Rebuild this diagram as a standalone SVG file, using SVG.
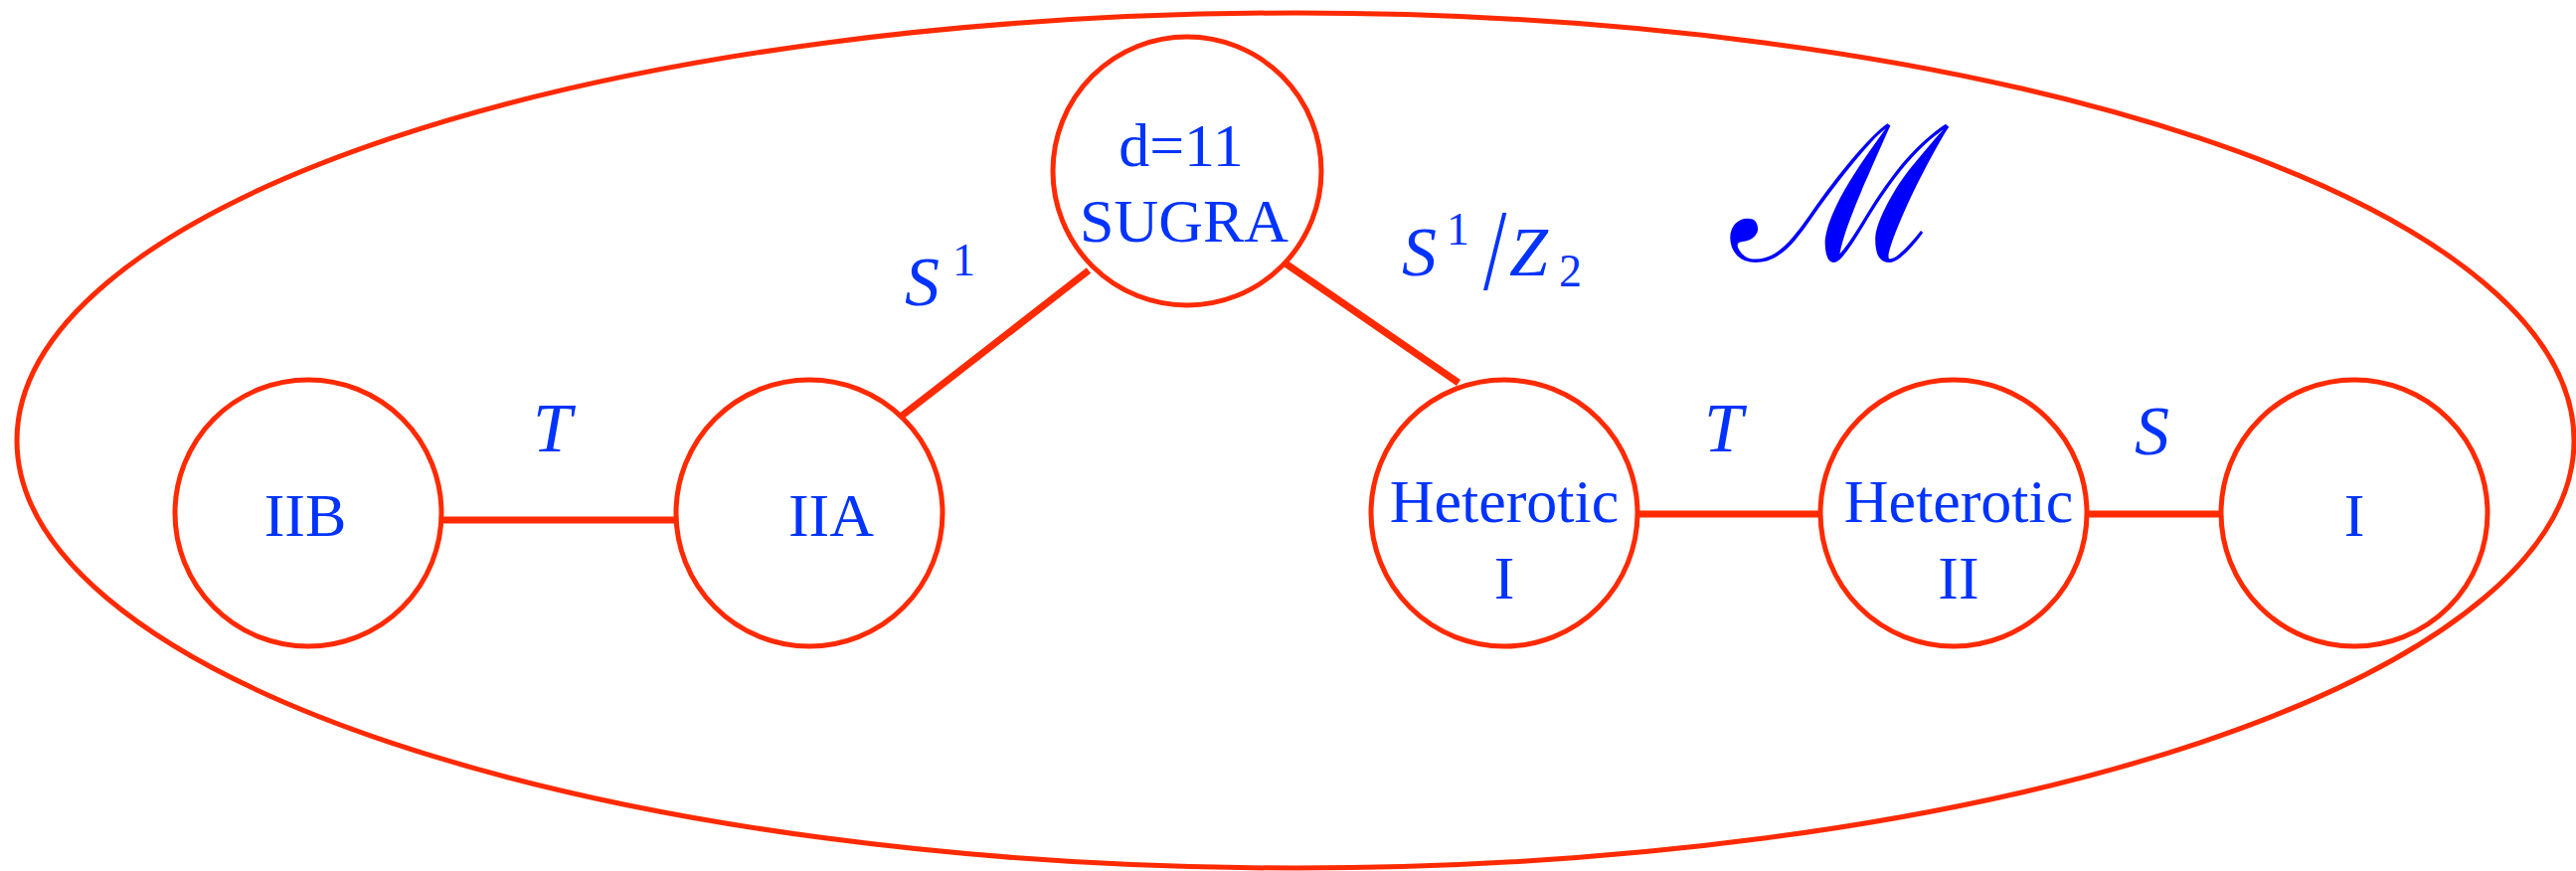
<svg xmlns="http://www.w3.org/2000/svg" width="2591" height="876" viewBox="0 0 2591 876">
<style>
.node{fill:none;stroke:#ff2a00;stroke-width:5}
.edge{stroke:#ff2a00;stroke-width:7;fill:none}
.lbl{font-family:"Liberation Serif","Times New Roman",serif;font-size:62px;fill:#0033ff;text-anchor:middle}
.it{font-family:"Liberation Serif","Times New Roman",serif;font-style:italic;font-size:70px;fill:#0033ff}
.up{font-family:"Liberation Serif","Times New Roman",serif;font-size:70px;fill:#0033ff}
.sup{font-family:"Liberation Serif","Times New Roman",serif;font-size:46px;fill:#0033ff}
</style>
<rect width="2591" height="876" fill="#ffffff"/>
<g id="moduli">
<ellipse cx="1303" cy="443" rx="1286" ry="430" class="node"/>
<text x="1850" y="262" font-family="DejaVu Serif, serif" font-size="190" fill="#0000ff" text-anchor="middle">ℳ</text>
</g>
<g id="connectors">
<line class="edge" x1="446" y1="523" x2="681" y2="523"/>
<line class="edge" x1="906" y1="419" x2="1095" y2="272"/>
<line class="edge" x1="1293" y1="265" x2="1467" y2="385"/>
<line class="edge" x1="1647" y1="517" x2="1832" y2="517"/>
<line class="edge" x1="2097" y1="517" x2="2234" y2="517"/>
<text class="it" x="536" y="454">T</text>
<text class="it" x="910" y="307">S</text>
<text class="sup" x="958" y="277">1</text>
<text class="it" x="1410" y="277">S</text>
<text class="sup" x="1455" y="246">1</text>
<text class="up" transform="translate(1492,291) scale(1.2,1.65)">/</text>
<text class="it" x="1518" y="277">Z</text>
<text class="sup" x="1568" y="288">2</text>
<text class="it" x="1714" y="454">T</text>
<text class="it" x="2147" y="457">S</text>
</g>
<g id="IIB">
<circle cx="310" cy="516" r="134" class="node"/>
<text class="lbl" x="307" y="539">IIB</text>
</g>
<g id="IIA">
<circle cx="814" cy="516" r="134" class="node"/>
<text class="lbl" x="836" y="539">IIA</text>
</g>
<g id="SUGRA">
<circle cx="1194" cy="172" r="135" class="node"/>
<text class="lbl" x="1188" y="167">d=11</text>
<text class="lbl" x="1191" y="243">SUGRA</text>
</g>
<g id="HeteroticI">
<circle cx="1513" cy="516" r="134" class="node"/>
<text class="lbl" x="1513" y="525">Heterotic</text>
<text class="lbl" x="1513" y="602">I</text>
</g>
<g id="HeteroticII">
<circle cx="1965" cy="516" r="134" class="node"/>
<text class="lbl" x="1970" y="525">Heterotic</text>
<text class="lbl" x="1970" y="602">II</text>
</g>
<g id="I">
<circle cx="2368" cy="516" r="134" class="node"/>
<text class="lbl" x="2368" y="539">I</text>
</g>
</svg>
